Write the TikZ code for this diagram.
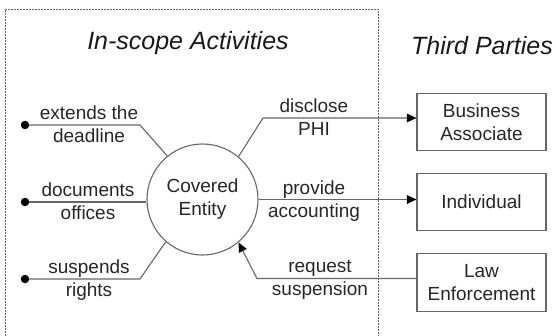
\documentclass[tikz,border=0pt]{standalone}
\usepackage{fontspec}
\setmainfont{Liberation Sans}
\usetikzlibrary{arrows.meta}

\begin{document}
\begin{tikzpicture}[x=1pt, y=-1pt,
    font=\fontsize{19}{23}\selectfont,
    line/.style={draw=black!60, line width=1.1pt},
    flow/.style={line, -{Triangle[length=9.5pt, width=8.5pt, color=black]}},
    party/.style={draw=black!60, line width=1.1pt, minimum width=129pt,
      minimum height=57.5pt, inner sep=0pt, align=center, text=black!85},
    lbl/.style={align=center, text=black!85, inner sep=0pt,
      execute at begin node=\strut, execute at end node=\strut, yshift=-3pt},
    dot/.style={circle, fill=black, inner sep=0pt, minimum size=8.5pt},
    heading/.style={font=\fontsize{25}{30}\selectfont\itshape, text=black!90}]

    \useasboundingbox (0,0) rectangle (556,335);

    % 1. Bereich (gepunkteter Rahmen, unten offen)
    \draw[black!60, line width=0.8pt, dash pattern=on 1.6pt off 1.4pt]
      (5,345) -- (5,9) -- (378,9) -- (378,345);

    % Ueberschriften
    \node[heading] (scope) at (188,43) {In-scope Activities};
    \node[heading] (third) at (482,46) {Third Parties};

    % 2. Knoten
    \node[circle, draw=black!60, line width=1.1pt, minimum size=111pt,
      inner sep=0pt, align=center, text=black!85] (CE) at (202.5,199.5)
      {Covered\\Entity};

    \node[party] (BA) at (481.5,122) {Business\\Associate};
    \node[party] (IN) at (481.5,202) {Individual};
    \node[party] (LE) at (481.5,282.5) {Law\\Enforcement};

    \node[dot] (d1) at (25,125) {};
    \node[dot] (d2) at (25,202) {};
    \node[dot] (d3) at (25,279) {};

    % Knickpunkte
    \coordinate (cTL) at (140,125);
    \coordinate (cBL) at (140,279);
    \coordinate (cTR) at (263,118);
    \coordinate (cBR) at (257,278.5);

    % 3. Verbindungen
    \draw[line] (d1) -- (cTL) -- (CE.129);
    \draw[line] (d2) -- (d2 -| CE.west);
    \draw[line] (d3) -- (cBL) -- (CE.229);

    \draw[flow] (CE.50) -- (cTR) -- (cTR -| BA.west);
    \draw[flow] (CE.east) -- (CE.east -| IN.west);
    \draw[flow] (cBR -| LE.west) -- (cBR) -- (CE.310);

    % 4. Beschriftungen
    \node[lbl] (lExt) at (89,125) {extends the\\deadline};
    \node[lbl] (lDoc) at (88,202) {documents\\offices};
    \node[lbl] (lSus) at (89,279) {suspends\\rights};
    \node[lbl] (lDis) at (314,118) {disclose\\PHI};
    \node[lbl] (lPro) at (314,199.5) {provide\\accounting};
    \node[lbl] (lReq) at (320,278.5) {request\\suspension};

\end{tikzpicture}
\end{document}
